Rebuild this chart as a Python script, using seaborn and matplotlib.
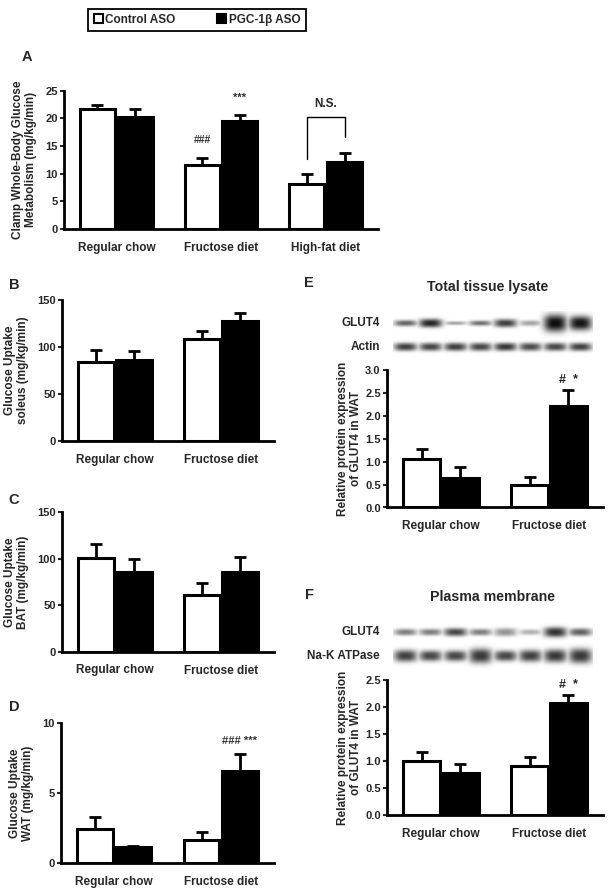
import matplotlib
matplotlib.use("Agg")
import matplotlib.pyplot as plt
from matplotlib.patches import Patch
import seaborn as sns
import pandas as pd
import numpy as np

# ---- data ----
groups = ["Control ASO", "PGC-1\u03b2 ASO"]
diets3 = ["Regular chow", "Fructose diet", "High-fat diet"]
diets2 = ["Regular chow", "Fructose diet"]

a_ctrl = [21.6, 11.5, 8.2]
a_ctrl_sem = [0.7, 1.4, 1.8]
a_pgc = [20.3, 19.5, 12.1]
a_pgc_sem = [1.3, 1.0, 1.6]

b_ctrl = [84, 109]
b_ctrl_sem = [12.7, 8.0]
b_pgc = [86, 127.6]
b_pgc_sem = [9.6, 8.2]

c_ctrl = [101, 61.5]
c_ctrl_sem = [15.0, 12.5]
c_pgc = [86, 85.4]
c_pgc_sem = [13.4, 16.4]

d_ctrl = [2.42, 1.63]
d_ctrl_sem = [0.88, 0.57]
d_pgc = [1.14, 6.56]
d_pgc_sem = [0.11, 1.24]

e_ctrl = [1.05, 0.50]
e_ctrl_sem = [0.22, 0.16]
e_pgc = [0.64, 2.21]
e_pgc_sem = [0.24, 0.36]

f_ctrl = [1.00, 0.91]
f_ctrl_sem = [0.17, 0.16]
f_pgc = [0.78, 2.07]
f_pgc_sem = [0.16, 0.15]

# western blot band darkness (0-1) and band thickness per lane
e_glut4 = [0.6, 0.85, 0.35, 0.55, 0.75, 0.35, 0.95, 0.92]
e_glut4_h = [0.26, 0.36, 0.16, 0.22, 0.34, 0.24, 0.72, 0.6]
e_actin = [0.75, 0.72, 0.75, 0.72, 0.78, 0.7, 0.72, 0.75]
e_actin_h = [0.34, 0.34, 0.34, 0.34, 0.34, 0.34, 0.34, 0.34]
f_glut4 = [0.5, 0.5, 0.72, 0.5, 0.42, 0.3, 0.8, 0.62]
f_glut4_h = [0.28, 0.28, 0.34, 0.28, 0.34, 0.24, 0.42, 0.32]
f_nak = [0.75, 0.72, 0.72, 0.78, 0.72, 0.75, 0.78, 0.78]
f_nak_h = [0.5, 0.45, 0.45, 0.62, 0.45, 0.5, 0.55, 0.62]

sns.set_style("white")
plt.rcParams['font.family'] = ['Liberation Sans', 'DejaVu Sans']
plt.rcParams['font.weight'] = 'bold'

fig = plt.figure(figsize=(6.1, 8.96), dpi=100)
W, H = 610.0, 896.0


def px_axes(left, right, top, bottom):
    return fig.add_axes([left / W, 1 - bottom / H, (right - left) / W, (bottom - top) / H])


def bar_panel(ax, diets, ctrl, ctrl_sem, pgc, pgc_sem, ymax, ystep, ylabel, yfmt="{:g}", lpad=6):
    df = pd.DataFrame({
        "diet": diets * 2,
        "group": [groups[0]] * len(diets) + [groups[1]] * len(diets),
        "value": list(ctrl) + list(pgc),
    })
    sns.barplot(data=df, x="diet", y="value", hue="group", order=diets, hue_order=groups,
                palette={groups[0]: "white", groups[1]: "black"}, edgecolor="black",
                linewidth=2.2, width=0.72, gap=0.07, errorbar=None, legend=False, ax=ax,
                zorder=3)
    centers = []
    for cont, sems in zip(ax.containers, [ctrl_sem, pgc_sem]):
        xs = []
        for bar, s in zip(cont, sems):
            x = bar.get_x() + bar.get_width() / 2
            h = bar.get_height()
            ax.errorbar(x, h, yerr=[[0], [s]], color="black", elinewidth=2,
                        capsize=4, capthick=2, zorder=2)
            xs.append(x)
        centers.append(xs)
    n = len(diets)
    ax.set_xlim(-0.5, n - 0.5)
    ax.set_ylim(0, ymax)
    ticks = np.arange(0, ymax + ystep / 2, ystep)
    ax.set_yticks(ticks)
    ax.set_yticklabels([yfmt.format(v) for v in ticks])
    ax.set_xticks(range(n))
    ax.set_xticklabels(diets)
    ax.set_xticks(np.arange(-0.5, n, 1.0), minor=True)
    ax.tick_params(axis="x", which="major", length=0, pad=9, labelsize=8.5)
    ax.tick_params(axis="x", which="minor", length=4, width=1.5, direction="inout")
    ax.tick_params(axis="y", length=3, width=1.5, direction="out", pad=1.5, labelsize=8, left=True)
    for lab in ax.get_xticklabels() + ax.get_yticklabels():
        lab.set_fontweight("bold")
    ax.set_xlabel("")
    ax.set_ylabel(ylabel, fontsize=8.5, fontweight="bold", linespacing=1.1, labelpad=lpad)
    sns.despine(ax=ax)
    for sp in ["left", "bottom"]:
        ax.spines[sp].set_linewidth(2)
        ax.spines[sp].set_color("black")
    ax.patch.set_alpha(0)
    return centers


def blot(ax, rows, labels, label_x):
    # rows: list of (darkness list, thickness list), drawn top to bottom
    xs = np.linspace(0.5, 8.5, 480)
    ys = np.linspace(-0.5, len(rows) - 0.5, 40 * len(rows))
    X, Y = np.meshgrid(xs, ys)
    img = np.zeros_like(X)
    for r, (dark, thick) in enumerate(rows):
        yc = len(rows) - 1 - r
        for i, (d, t) in enumerate(zip(dark, thick)):
            lane = i + 1
            fx = np.exp(-np.abs((X - lane) / 0.46) ** 3)
            fy = np.exp(-np.abs((Y - yc) / (t / 2)) ** 2.5)
            img = np.maximum(img, d * fx * fy)
    ax.imshow(img, extent=(0.5, 8.5, -0.5, len(rows) - 0.5), origin="lower",
              cmap="gray_r", vmin=0, vmax=1, aspect="auto", interpolation="bilinear")
    ax.set_axis_off()
    for r, lab in enumerate(labels):
        yc = len(rows) - 1 - r
        ax.text(label_x, yc, lab, ha="right", va="center", fontsize=8.5, fontweight="bold",
                transform=ax.transData)


# ---- panel A ----
axA = px_axes(64, 378, 90.5, 229)
cA = bar_panel(axA, diets3, a_ctrl, a_ctrl_sem, a_pgc, a_pgc_sem, 25, 5,
               "Clamp Whole-Body Glucose\nMetabolism (mg/kg/min)")
axA.text(cA[0][1], a_ctrl[1] + a_ctrl_sem[1] + 2.2, "###", ha="center", va="bottom",
         fontsize=7.5, fontweight="bold", color="#333333")
axA.text(cA[1][1], a_pgc[1] + a_pgc_sem[1] + 2.2, "***", ha="center", va="bottom",
         fontsize=8, fontweight="bold", color="#333333")
y_br = 20.3
axA.plot([cA[0][2], cA[0][2], cA[1][2], cA[1][2]],
         [a_ctrl[2] + a_ctrl_sem[2] + 2.7, y_br, y_br, a_pgc[2] + a_pgc_sem[2] + 2.9],
         color="black", lw=1, zorder=4)
axA.text((cA[0][2] + cA[1][2]) / 2, y_br + 1.2, "N.S.", ha="center", va="bottom",
         fontsize=8.5, fontweight="bold")

# ---- panel B ----
axB = px_axes(62, 274, 300, 441)
bar_panel(axB, diets2, b_ctrl, b_ctrl_sem, b_pgc, b_pgc_sem, 150, 50,
          "Glucose Uptake\nsoleus (mg/kg/min)")

# ---- panel C ----
axC = px_axes(62, 274, 512, 652)
bar_panel(axC, diets2, c_ctrl, c_ctrl_sem, c_pgc, c_pgc_sem, 150, 50,
          "Glucose Uptake\nBAT (mg/kg/min)")

# ---- panel D ----
axD = px_axes(61, 274, 723, 863)
cD = bar_panel(axD, diets2, d_ctrl, d_ctrl_sem, d_pgc, d_pgc_sem, 10, 5,
               "Glucose Uptake\nWAT (mg/kg/min)")
axD.text(cD[1][1], d_pgc[1] + d_pgc_sem[1] + 0.55, "### ***", ha="center", va="bottom",
         fontsize=8, fontweight="bold", color="#333333")

# ---- panel E ----
axE = px_axes(387, 603, 370, 507.5)
cE = bar_panel(axE, diets2, e_ctrl, e_ctrl_sem, e_pgc, e_pgc_sem, 3.0, 0.5,
               "Relative protein expression\nof GLUT4 in WAT", yfmt="{:.1f}")
axE.yaxis.set_label_coords(-0.118, 0.5)
axE.text(cE[1][1], e_pgc[1] + e_pgc_sem[1] + 0.08, "#  *", ha="center", va="bottom",
         fontsize=9, fontweight="bold")
blotE = px_axes(392.5, 592.5, 311, 359)
blot(blotE, [(e_glut4, e_glut4_h), (e_actin, e_actin_h)], ["GLUT4", "Actin"], 0.0)

# ---- panel F ----
axF = px_axes(387, 603, 680, 815)
cF = bar_panel(axF, diets2, f_ctrl, f_ctrl_sem, f_pgc, f_pgc_sem, 2.5, 0.5,
               "Relative protein expression\nof GLUT4 in WAT", yfmt="{:.1f}")
axF.yaxis.set_label_coords(-0.118, 0.5)
axF.text(cF[1][1], f_pgc[1] + f_pgc_sem[1] + 0.07, "#  *", ha="center", va="bottom",
         fontsize=9, fontweight="bold")
blotF = px_axes(392.5, 592.5, 620, 668)
blot(blotF, [(f_glut4, f_glut4_h), (f_nak, f_nak_h)], ["GLUT4", "Na-K ATPase"], 0.0)

# ---- letters and titles ----
for letter, x, y in [("A", 27, 57), ("B", 14, 285), ("C", 14, 500), ("D", 14, 707),
                     ("E", 309, 283), ("F", 309, 595)]:
    fig.text(x / W, 1 - y / H, letter, ha="center", va="center", fontsize=10.5, fontweight="bold")
fig.text(488 / W, 1 - 287 / H, "Total tissue lysate", ha="center", va="center",
         fontsize=10.2, fontweight="bold")
fig.text(492 / W, 1 - 597 / H, "Plasma membrane", ha="center", va="center",
         fontsize=10.2, fontweight="bold")

# ---- legend ----
handles = [Patch(facecolor="white", edgecolor="black", linewidth=1.5),
           Patch(facecolor="black", edgecolor="black", linewidth=1.5)]
leg = fig.legend(handles, groups, loc="center", bbox_to_anchor=(197 / W, 1 - 20 / H), ncol=2,
                 frameon=True, fancybox=False, edgecolor="black", framealpha=1,
                 handlelength=0.8, handleheight=0.8, handletextpad=0.2, columnspacing=3.5,
                 borderpad=0.45, prop={"weight": "bold", "size": 8.5})
leg.get_frame().set_linewidth(1.3)

fig.savefig("out.png", dpi=100)
